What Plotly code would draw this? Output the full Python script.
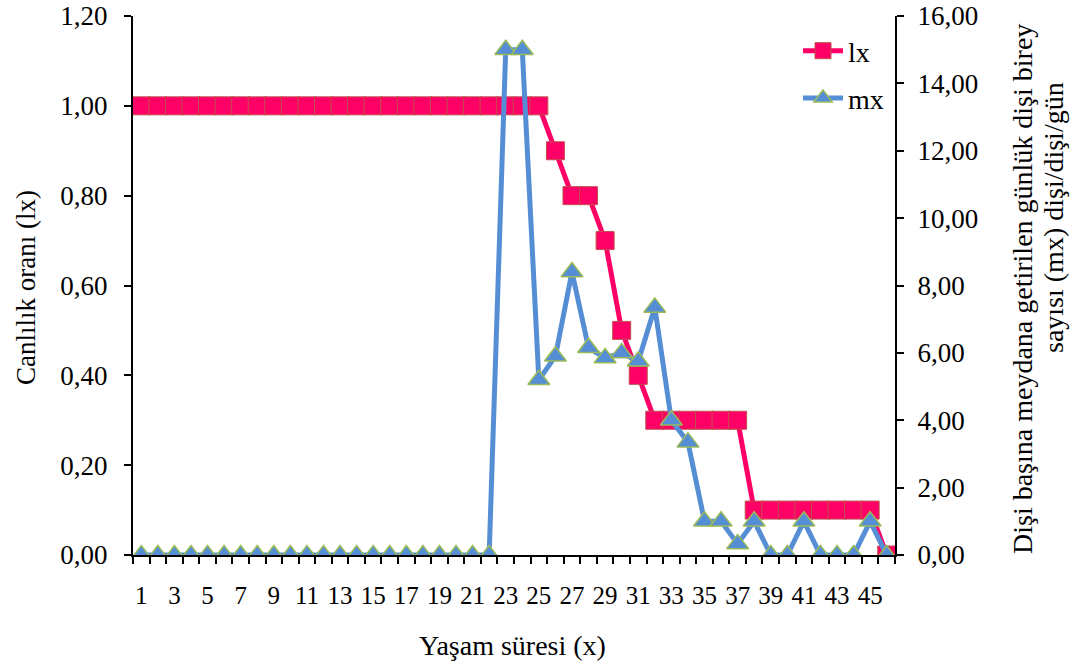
import plotly.graph_objects as go

days = list(range(1, 47))
lx = [1.00]*25 + [0.90, 0.80, 0.80, 0.70, 0.50, 0.40] + [0.30]*6 + [0.10]*8 + [0.00]
mx = ([0.0]*22 + [15.0, 15.0, 5.2, 5.9, 8.4, 6.15, 5.85, 6.0, 5.75, 7.35, 4.0, 3.35,
      1.0, 1.0, 0.33, 1.0, 0.0, 0.0, 1.0, 0.0, 0.0, 0.0, 1.0, 0.0])
x_ticks = list(range(1, 46, 2))
y1_ticks = [0.0, 0.2, 0.4, 0.6, 0.8, 1.0, 1.2]
y2_ticks = [0, 2, 4, 6, 8, 10, 12, 14, 16]
x_title = "Yaşam süresi (x)"
y1_title = "Canlılık oranı (lx)"
y2_title_1 = "Dişi başına meydana getirilen günlük dişi birey"
y2_title_2 = "sayısı (mx) dişi/dişi/gün"

W, H = 1079, 671
# plot area in screen pixels: x 133..895, y 16..555
L, T = 133, 16
R = W - 895
B = H - 555
PW, PH = W - L - R, H - T - B
FONT = "Liberation Serif"

def px(xs):
    return (xs - L) / PW

def py(ys):
    return (H - B - ys) / PH

fig = go.Figure()
fig.add_trace(go.Scatter(
    x=days, y=lx, name="lx", mode="lines+markers", legendgroup="a",
    line=dict(color="#FF0066", width=5),
    marker=dict(symbol="square", size=18, color="#FF0066",
                line=dict(color="#C0504D", width=1)),
    yaxis="y"))
fig.add_trace(go.Scatter(
    x=days, y=mx, name="mx", mode="lines+markers", legendgroup="b",
    line=dict(color="#558ED5", width=5),
    marker=dict(symbol="triangle-up", size=19, color="#558ED5",
                line=dict(color="#9BBB59", width=1.5)),
    yaxis="y2"))

axis_common = dict(showline=True, linecolor="black", linewidth=2, showgrid=False,
                   zeroline=False, automargin=False, ticklabeloverflow="allow")

fig.update_layout(
    width=W, height=H,
    margin=dict(l=L, r=R, t=T, b=B, autoexpand=False),
    plot_bgcolor="white", paper_bgcolor="white",
    separators=",.",
    font=dict(family=FONT, color="black"),
    xaxis=dict(range=[0.5, 46.5], tickmode="array", tickvals=x_ticks,
               ticktext=[str(v) for v in x_ticks], ticks="outside", ticklen=17,
               tickcolor="rgba(0,0,0,0)",
               tickfont=dict(family=FONT, size=25, color="black"),
               minor=dict(tickmode="array", tickvals=[v + 0.5 for v in range(0, 47)],
                          ticks="outside", ticklen=7, tickwidth=2, tickcolor="black"),
               **axis_common),
    yaxis=dict(range=[0, 1.2], tickmode="array", tickvals=y1_ticks, tickformat=".2f",
               ticks="outside", ticklen=7, tickwidth=2, tickcolor="black",
               ticklabelstandoff=11,
               tickfont=dict(family=FONT, size=27, color="black"), **axis_common),
    yaxis2=dict(range=[0, 16], tickmode="array", tickvals=y2_ticks, tickformat=".2f",
                overlaying="y", side="right", anchor="x",
                ticks="outside", ticklen=7, tickwidth=2, tickcolor="black",
                ticklabelstandoff=8,
                tickfont=dict(family=FONT, size=27, color="black"), **axis_common),
    legend=dict(x=px(798), y=py(26), xanchor="left", yanchor="top",
                bgcolor="rgba(0,0,0,0)", font=dict(family=FONT, size=28, color="black"),
                traceorder="grouped", tracegroupgap=8, itemwidth=40),
    annotations=[
        dict(text=x_title, x=px(512), y=py(645), xref="paper", yref="paper",
             showarrow=False, xanchor="center", yanchor="middle",
             font=dict(family=FONT, size=28, color="black")),
        dict(text=y1_title, x=px(26), y=py(288), xref="paper", yref="paper",
             showarrow=False, textangle=-90, xanchor="center", yanchor="middle",
             font=dict(family=FONT, size=27, color="black")),
        dict(text=y2_title_1, x=px(1022), y=py(289), xref="paper", yref="paper",
             showarrow=False, textangle=-90, xanchor="center", yanchor="middle",
             font=dict(family=FONT, size=28, color="black")),
        dict(text=y2_title_2, x=px(1053), y=py(218), xref="paper", yref="paper",
             showarrow=False, textangle=-90, xanchor="center", yanchor="middle",
             font=dict(family=FONT, size=28, color="black")),
    ],
)

fig.write_html("out.html", config={"displayModeBar": False},
               post_script="document.body.style.margin='0';document.body.style.overflow='hidden';")
